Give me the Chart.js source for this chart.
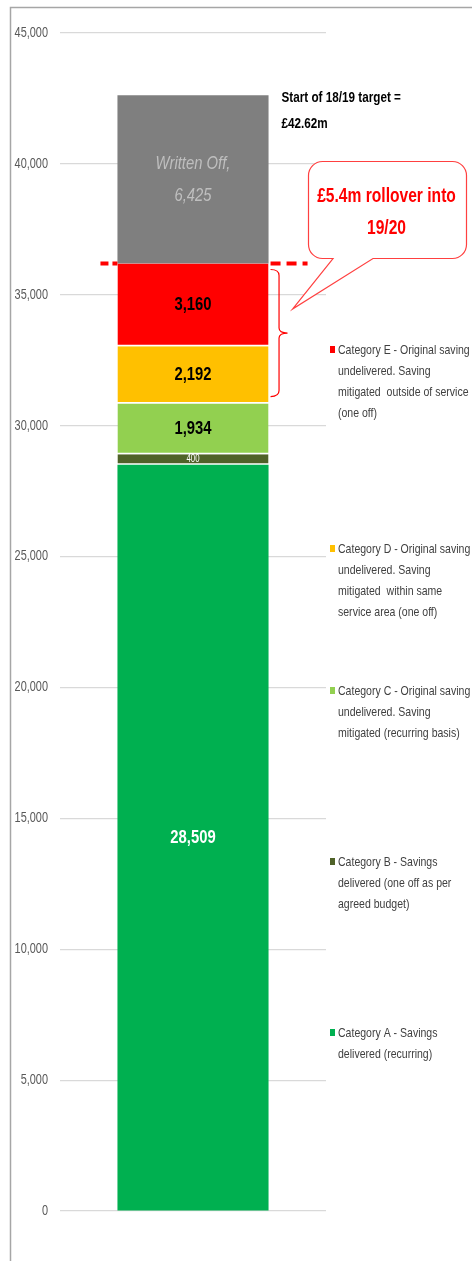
<!DOCTYPE html>
<html>
<head>
<meta charset="utf-8">
<script src="https://cdn.jsdelivr.net/npm/chart.js@4.4.1/dist/chart.umd.min.js"></script>
<style>
  html, body { margin: 0; padding: 0; background: #fff; }
  #wrap { width: 472px; height: 1261px; position: relative; }
</style>
</head>
<body>
<div id="wrap"><canvas id="savings-chart"></canvas></div>
<script>
// data, bottom of the stack first
const categories = ['2018/19'];
const catA = [28509];
const catB = [400];
const catC = [1934];
const catD = [2192];
const catE = [3160];
const writtenOff = [6425];
const yMax = 45000;
const yStep = 5000;

const seriesNames = ['Category A', 'Category B', 'Category C', 'Category D', 'Category E', 'Written Off'];
const legendLines = [
    ['Category E - Original saving', 'undelivered. Saving', 'mitigated  outside of service', '(one off)'],
    ['Category D - Original saving', 'undelivered. Saving', 'mitigated  within same', 'service area (one off)'],
    ['Category C - Original saving', 'undelivered. Saving', 'mitigated (recurring basis)'],
    ['Category B - Savings', 'delivered (one off as per', 'agreed budget)'],
    ['Category A - Savings', 'delivered (recurring)']
];
const targetNote = ['Start of 18/19 target =', '£42.62m'];
const rolloverNote = ['£5.4m rollover into', '19/20'];

// no narrow font installed, so text is squeezed sideways to look like Calibri
const FONT = '"Liberation Sans", Arial, sans-serif';
const SQUEEZE = 0.78;
const colours = ['#00b050', '#4f6228', '#92d050', '#ffc000', '#ff0000', '#7f7f7f'];
const legendColours = ['#ff0000', '#ffc000', '#92d050', '#4f6228', '#00b050'];
const legendTops = [350, 549, 691, 862, 1033];

const fmt = v => v.toLocaleString('en-GB');

function squeezeText(ctx, text, x, y) {
    ctx.save();
    ctx.translate(x, y);
    ctx.scale(SQUEEZE, 1);
    ctx.fillText(text, 0, 0);
    ctx.restore();
}

// labels inside each segment
const labelStyles = [
    { font: 'bold 19px ' + FONT, color: '#ffffff' },
    { font: '10px ' + FONT, color: '#ffffff' },
    { font: 'bold 19px ' + FONT, color: '#000000' },
    { font: 'bold 19px ' + FONT, color: '#000000' },
    { font: 'bold 19px ' + FONT, color: '#000000' },
    { font: 'italic 19px ' + FONT, color: '#bfbfbf' }
];

const segLabels = {
    id: 'segLabels',
    afterDatasetsDraw(chart) {
        const ctx = chart.ctx;
        ctx.save();
        ctx.textAlign = 'center';
        ctx.textBaseline = 'middle';
        chart.data.datasets.forEach((ds, i) => {
            const bar = chart.getDatasetMeta(i).data[0];
            const cy = (bar.y + bar.base) / 2;
            const st = labelStyles[i];
            ctx.font = st.font;
            ctx.fillStyle = st.color;
            if (i === 5) {
                squeezeText(ctx, ds.label + ',', bar.x, cy - 16);
                squeezeText(ctx, fmt(ds.data[0]), bar.x, cy + 16);
            } else {
                squeezeText(ctx, fmt(ds.data[0]), bar.x, cy);
            }
        });
        ctx.restore();
    }
};

// tick labels, notes, dashed line, brace, callout, legend and frame
const extras = {
    id: 'extras',
    afterDraw(chart) {
        const ctx = chart.ctx;
        const y = chart.scales.y;
        const bar = chart.getDatasetMeta(4).data[0];
        const right = bar.x + bar.width / 2;
        const left = bar.x - bar.width / 2;
        const topE = y.getPixelForValue(catA[0] + catB[0] + catC[0] + catD[0] + catE[0]);
        const topC = y.getPixelForValue(catA[0] + catB[0] + catC[0]);
        const topAll = chart.getDatasetMeta(5).data[0].y;
        ctx.save();

        // y tick labels
        ctx.fillStyle = '#595959';
        ctx.font = '14px ' + FONT;
        ctx.textAlign = 'right';
        ctx.textBaseline = 'middle';
        y.ticks.forEach(t => squeezeText(ctx, fmt(t.value), chart.chartArea.left - 12, y.getPixelForValue(t.value)));

        // frame
        ctx.strokeStyle = '#a6a6a6';
        ctx.lineWidth = 1.5;
        ctx.beginPath();
        ctx.moveTo(10.5, 1261);
        ctx.lineTo(10.5, 7.5);
        ctx.lineTo(472, 7.5);
        ctx.stroke();

        // target note
        ctx.fillStyle = '#000';
        ctx.font = 'bold 15px ' + FONT;
        ctx.textAlign = 'left';
        squeezeText(ctx, targetNote[0], right + 13, topAll + 3);
        squeezeText(ctx, targetNote[1], right + 13, topAll + 29);

        // dashed line at top of category E, only either side of the bar
        ctx.strokeStyle = '#ff0000';
        ctx.lineWidth = 4;
        ctx.setLineDash([8, 4]);
        ctx.beginPath();
        ctx.moveTo(left - 17, topE);
        ctx.lineTo(left, topE);
        ctx.stroke();
        ctx.setLineDash([10, 6]);
        ctx.beginPath();
        ctx.moveTo(right + 2, topE);
        ctx.lineTo(right + 39, topE);
        ctx.stroke();
        ctx.setLineDash([]);

        // brace over E + D
        const b1 = topE + 6, b2 = topC - 7, bm = (b1 + b2) / 2;
        const bx = right + 2, bw = 17;
        ctx.lineWidth = 1.2;
        ctx.beginPath();
        ctx.moveTo(bx, b1);
        ctx.quadraticCurveTo(bx + bw / 2, b1, bx + bw / 2, b1 + 6);
        ctx.lineTo(bx + bw / 2, bm - 5);
        ctx.quadraticCurveTo(bx + bw / 2, bm, bx + bw, bm);
        ctx.quadraticCurveTo(bx + bw / 2, bm, bx + bw / 2, bm + 5);
        ctx.lineTo(bx + bw / 2, b2 - 6);
        ctx.quadraticCurveTo(bx + bw / 2, b2, bx, b2);
        ctx.stroke();

        // callout
        const L = 308.5, T = 161.5, R = 466.5, B = 258.5, r = 14;
        const tipX = right + 24, tipY = bm - 24;
        ctx.beginPath();
        ctx.moveTo(L + r, T);
        ctx.lineTo(R - r, T); ctx.arcTo(R, T, R, T + r, r);
        ctx.lineTo(R, B - r); ctx.arcTo(R, B, R - r, B, r);
        ctx.lineTo(373, B); ctx.lineTo(tipX, tipY); ctx.lineTo(333, B);
        ctx.lineTo(L + r, B); ctx.arcTo(L, B, L, B - r, r);
        ctx.lineTo(L, T + r); ctx.arcTo(L, T, L + r, T, r);
        ctx.closePath();
        ctx.fillStyle = '#fff';
        ctx.fill();
        ctx.strokeStyle = '#ff4040';
        ctx.lineWidth = 1.2;
        ctx.stroke();
        ctx.fillStyle = '#ff0000';
        ctx.font = 'bold 20px ' + FONT;
        ctx.textAlign = 'center';
        squeezeText(ctx, rolloverNote[0], (L + R) / 2 - 1, 196);
        squeezeText(ctx, rolloverNote[1], (L + R) / 2 - 1, 228);

        // legend
        ctx.textAlign = 'left';
        ctx.font = '13.5px ' + FONT;
        legendLines.forEach((lines, i) => {
            const top = legendTops[i];
            ctx.fillStyle = legendColours[i];
            ctx.fillRect(330, top - 4, 5, 7);
            ctx.fillStyle = '#404040';
            lines.forEach((t, j) => squeezeText(ctx, t, 338, top + j * 21));
        });
        ctx.restore();
    }
};

const datasets = [catA, catB, catC, catD, catE, writtenOff].map((d, i) => ({
    label: seriesNames[i],
    data: d,
    backgroundColor: colours[i],
    borderColor: '#ffffff',
    borderWidth: i === 0 || i === 5 ? 0 : { bottom: 1.5 },
    borderSkipped: false,
    barPercentage: 0.568,
    categoryPercentage: 1
}));

new Chart(document.getElementById('savings-chart'), {
    type: 'bar',
    data: { labels: categories, datasets: datasets },
    plugins: [segLabels, extras],
    options: {
        responsive: true,
        maintainAspectRatio: false,
        animation: false,
        layout: { padding: { top: 33, bottom: 50, right: 146, left: 0 } },
        scales: {
            x: { stacked: true, display: false },
            y: {
                stacked: true,
                min: 0,
                max: yMax,
                afterFit: s => { s.width = 60; },
                border: { display: false },
                grid: { color: '#d9d9d9', lineWidth: 1.2, drawTicks: false },
                ticks: { stepSize: yStep, display: false }
            }
        },
        plugins: {
            legend: { display: false },
            tooltip: { enabled: false }
        }
    }
});
</script>
</body>
</html>
